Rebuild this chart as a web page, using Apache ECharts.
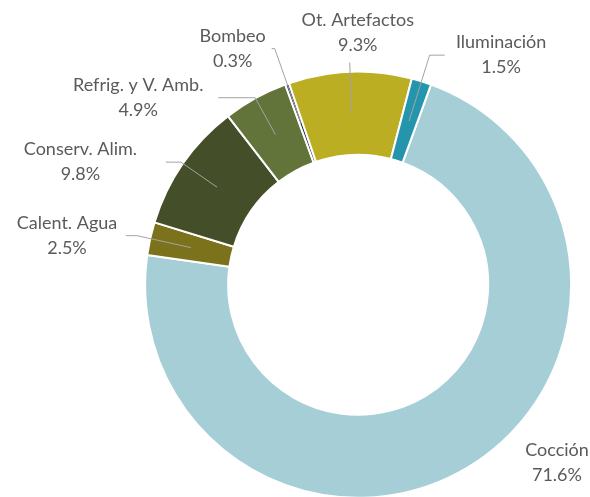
<!DOCTYPE html>
<html>
<head>
<meta charset="utf-8">
<script src="https://cdn.jsdelivr.net/npm/echarts@6/dist/echarts.min.js"></script>
<style>
  html, body { margin: 0; padding: 0; background: #fff; }
  #chart { width: 590px; height: 497px; }
</style>
</head>
<body>
<div id="chart"></div>
<script>
// consumo por uso final (%)
var categories = ['Cocción', 'Calent. Agua', 'Conserv. Alim.', 'Refrig. y V. Amb.', 'Bombeo', 'Ot. Artefactos', 'Iluminación'];
var shares = [71.6, 2.5, 9.8, 4.9, 0.3, 9.3, 1.5];
var colors = ['#a6ced6', '#7d721c', '#444e29', '#62743a', '#202838', '#bcae23', '#2595ad'];

// leader line lengths and label box widths, per slice
var lineLen = [36, 55, 44, 42, 79, 51, 69];
var lineLen2 = [55, 11, 15, 37, 3, 0, 15];
var boxWidth = [64, 108, 161, 150, 68, 120, 103];

var center = ['60.7%', '57.3%'];

function richFor(w) {
  return {
    n: {
      width: w,
      align: 'center',
      fontFamily: 'Lato',
      fontSize: 18,
      lineHeight: 25,
      color: '#5a5a5a'
    }
  };
}

var ringData = categories.map(function (name, i) {
  return { name: name, value: shares[i], itemStyle: { color: colors[i] } };
});

var labelData = categories.map(function (name, i) {
  return {
    name: name,
    value: shares[i],
    label: { rich: richFor(boxWidth[i]) },
    labelLine: { show: i !== 0, length: lineLen[i], length2: lineLen2[i] }
  };
});

var option = {
  animation: false,
  series: [
    {
      name: 'anillo',
      type: 'pie',
      z: 1,
      radius: [130, 213],
      center: center,
      startAngle: 70,
      silent: true,
      label: { show: false },
      labelLine: { show: false },
      itemStyle: { borderColor: '#fff', borderWidth: 2 },
      data: ringData
    },
    {
      // serie invisible solo para etiquetas; sus lineas arrancan a media corona
      name: 'etiquetas',
      type: 'pie',
      z: 3,
      radius: [0, 171.5],
      center: center,
      startAngle: 70,
      silent: true,
      avoidLabelOverlap: false,
      itemStyle: { color: 'transparent' },
      label: {
        show: true,
        position: 'outside',
        formatter: '{n|{b}}\n{n|{c}%}',
        distanceToLabelLine: 5
      },
      labelLine: {
        show: true,
        lineStyle: { color: '#a3a3a3', width: 1 }
      },
      labelLayout: function (params) {
        if (params.dataIndex === 5) {
          return { dx: 73, dy: -30 };
        }
      },
      data: labelData
    }
  ]
};

var myChart = echarts.init(document.getElementById('chart'));
myChart.setOption(option);
</script>
</body>
</html>
